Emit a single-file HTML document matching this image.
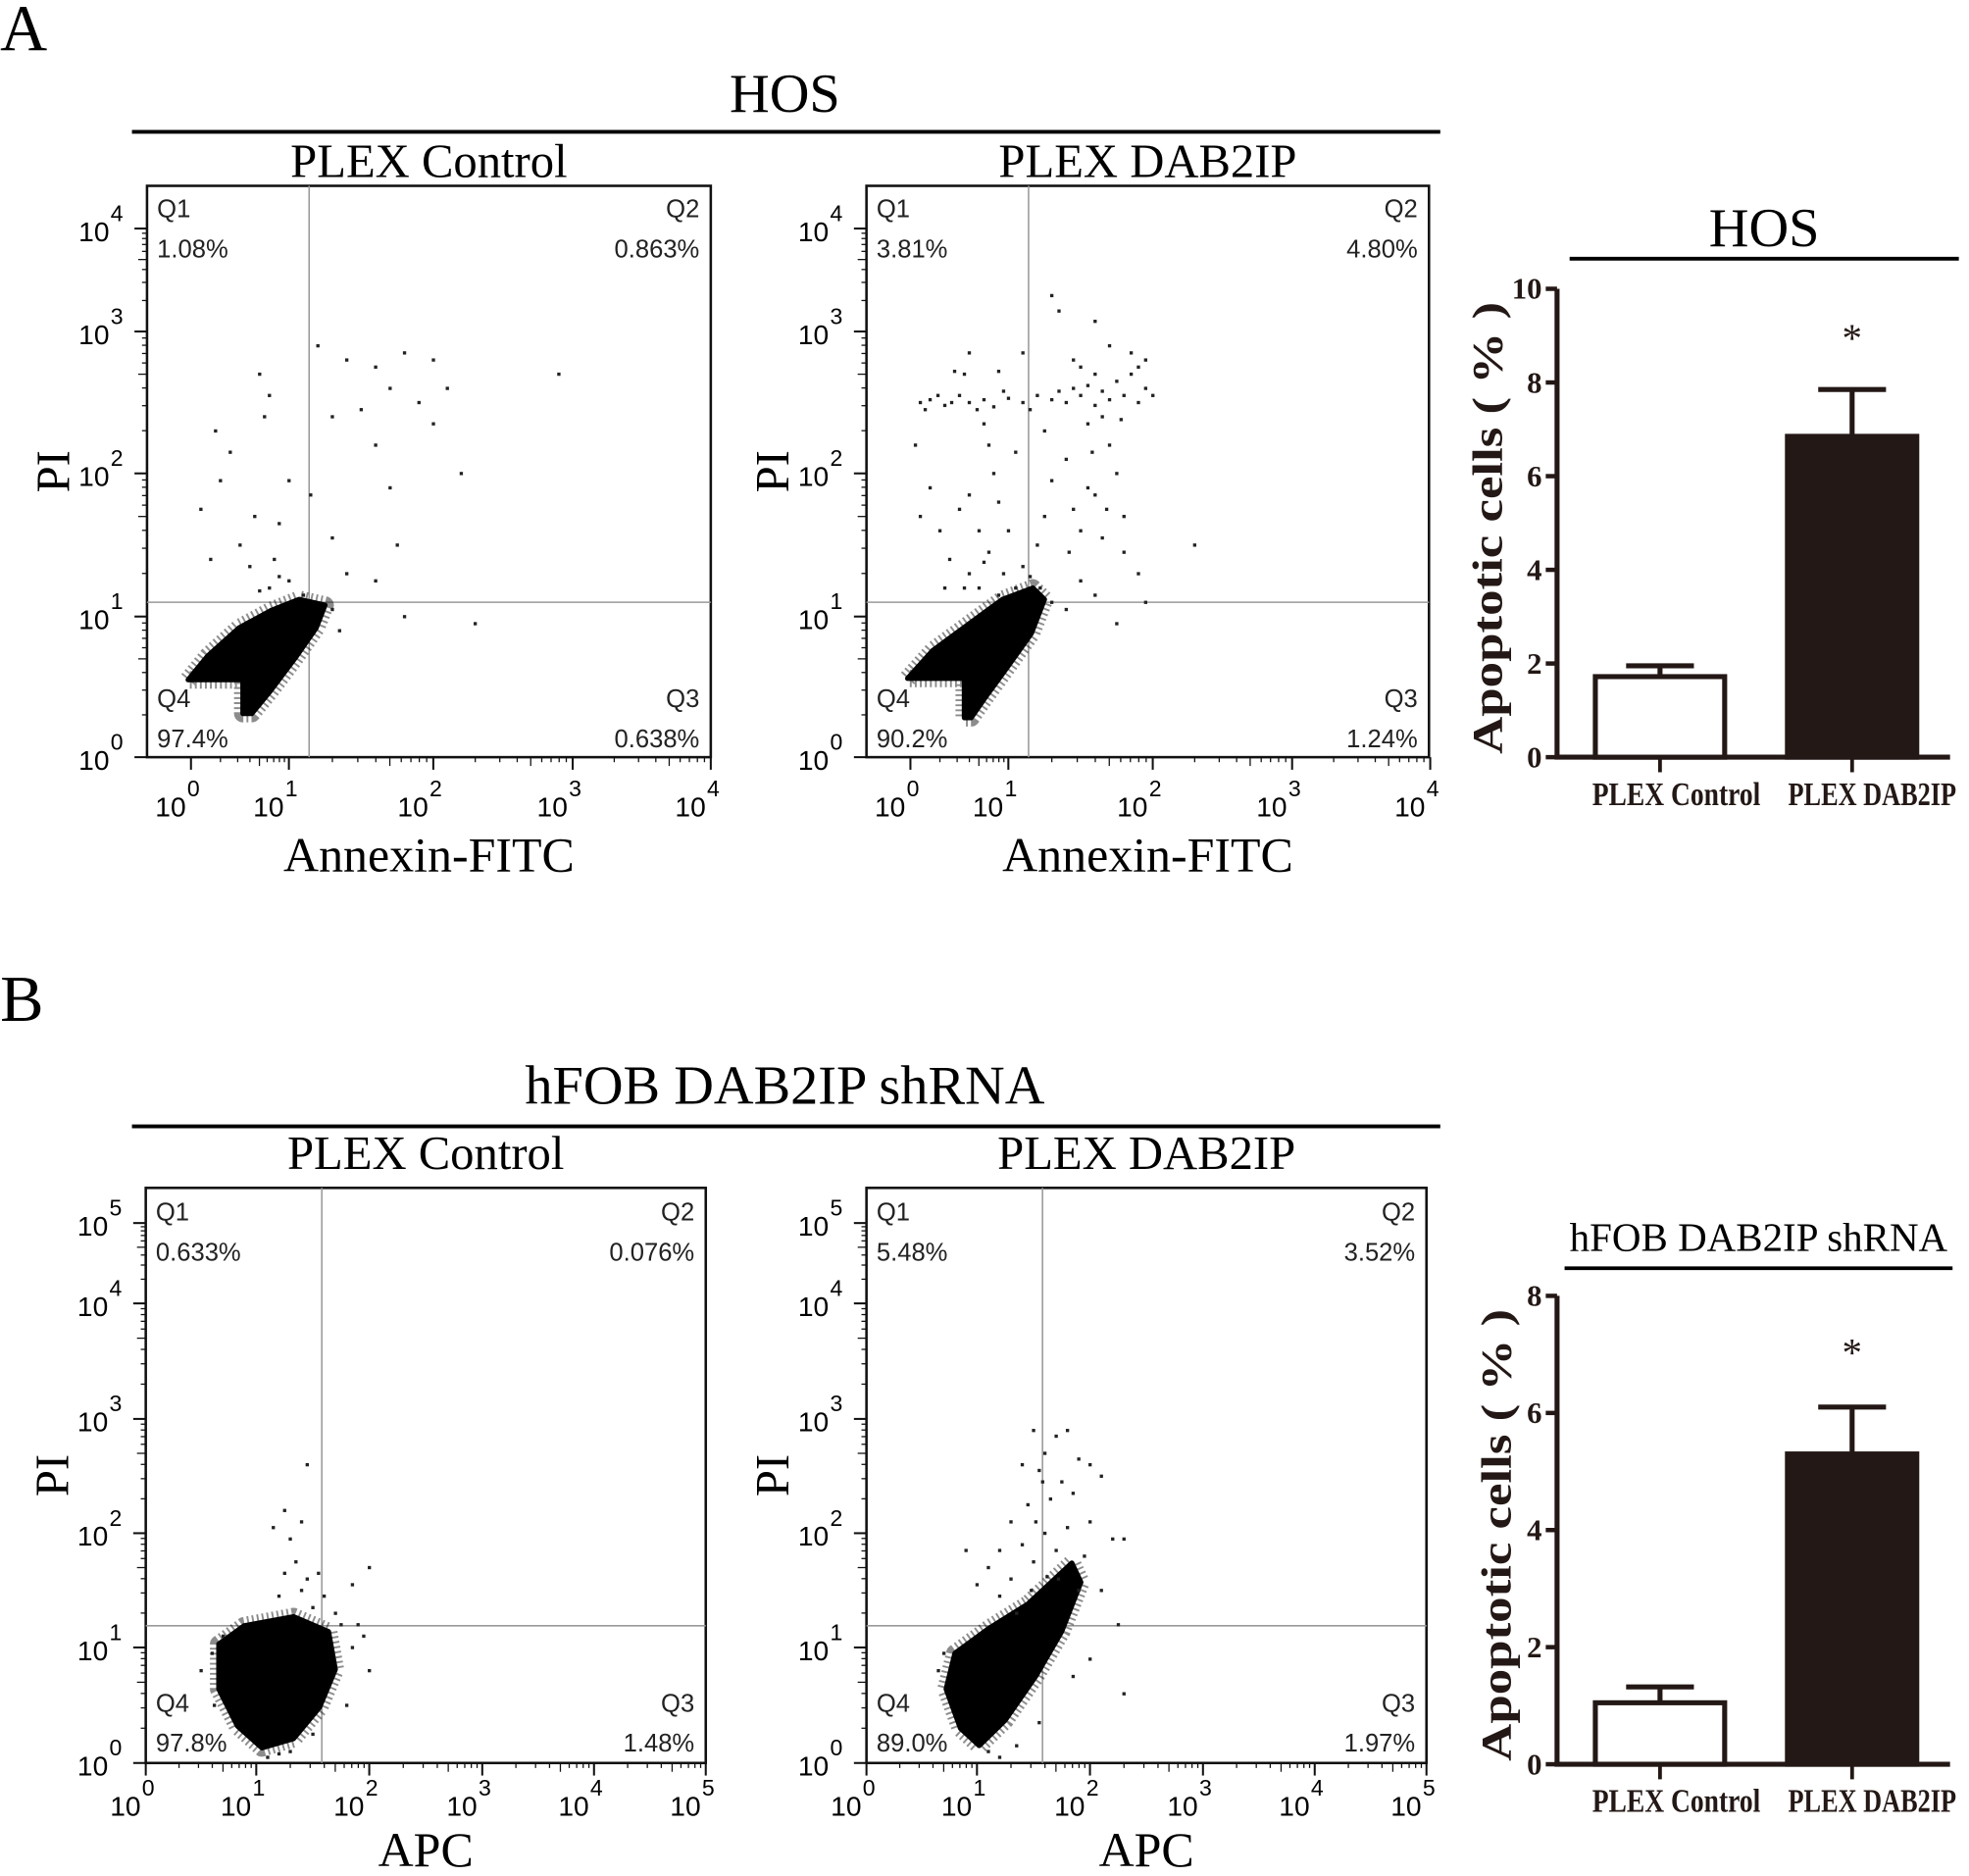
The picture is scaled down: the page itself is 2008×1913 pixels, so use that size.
<!DOCTYPE html>
<html><head><meta charset="utf-8"><style>
html,body{margin:0;padding:0;background:#fff}
svg{display:block}
text{font-family:"Liberation Serif",serif}
.sans{font-family:"Liberation Sans",sans-serif}
</style></head><body>
<svg id="fig" width="2008" height="1913" viewBox="0 0 1568 1494" xmlns="http://www.w3.org/2000/svg">
<text x="0" y="40" font-size="52">A</text>
<text x="0" y="813" font-size="52">B</text>
<text x="625" y="89" font-size="44" text-anchor="middle">HOS</text>
<line x1="105" y1="105" x2="1147" y2="105" stroke="#000" stroke-width="3"/>
<text x="625" y="879" font-size="44" text-anchor="middle">hFOB DAB2IP shRNA</text>
<line x1="105" y1="897" x2="1147" y2="897" stroke="#000" stroke-width="3"/>
<g id="root"></g>
</svg>
<script>
// ---------- data ----------
const quadLabelsA1 = ["1.08%","0.863%","0.638%","97.4%"];
const quadLabelsA2 = ["3.81%","4.80%","1.24%","90.2%"];
const quadLabelsB1 = ["0.633%","0.076%","1.48%","97.8%"];
const quadLabelsB2 = ["5.48%","3.52%","1.97%","89.0%"];
const gateA1 = [1.14, 1.1]; const gateA2 = [1.14, 1.1];
const gateB1 = [1.58, 1.19]; const gateB2 = [1.58, 1.19];
const clusterA1 = [[-0.03,0.55],[0.17,0.72],[0.49,0.92],[0.81,1.04],[1.07,1.12],[1.25,1.08],[1.19,0.92],[1.04,0.70],[0.81,0.47],[0.62,0.31],[0.53,0.31],[0.53,0.55]];
const clusterA2 = [[-0.03,0.56],[0.23,0.76],[0.62,0.96],[0.94,1.12],[1.17,1.2],[1.25,1.12],[1.16,0.88],[1.0,0.65],[0.77,0.43],[0.62,0.28],[0.55,0.28],[0.55,0.56]];
const clusterB1 = [[0.66,1.03],[0.89,1.19],[1.33,1.27],[1.64,1.14],[1.70,0.81],[1.56,0.48],[1.33,0.21],[1.05,0.13],[0.83,0.32],[0.66,0.64]];
const clusterB2 = [[0.8,0.95],[1.11,1.17],[1.45,1.38],[1.84,1.74],[1.92,1.57],[1.75,1.14],[1.52,0.75],[1.25,0.37],[1.02,0.15],[0.85,0.3],[0.72,0.64]];
const pointsA1 = [[1.2,2.9],[1.4,2.8],[1.6,2.75],[1.8,2.85],[2.0,2.8],[1.7,2.6],[1.9,2.5],[1.5,2.45],[1.3,2.4],[2.1,2.6],[2.0,2.35],[1.6,2.2],[1.7,1.9],[2.2,2.0],[1.75,1.5],[0.7,2.7],[0.8,2.55],[0.75,2.4],[0.25,2.3],[0.4,2.15],[0.3,1.95],[0.1,1.75],[0.65,1.7],[1.0,1.95],[0.9,1.65],[0.5,1.5],[1.15,1.85],[0.2,1.4],[0.6,1.35],[0.85,1.4],[1.4,1.3],[1.6,1.25],[2.9,2.7],[1.3,1.55],[1.8,1.0],[2.3,0.95],[0.8,1.2],[1.0,1.25],[1.1,1.15],[0.9,1.28],[0.7,1.18],[1.3,1.05],[1.35,0.9]];
const pointsA2 = [[0.1,2.5],[0.2,2.52],[0.35,2.48],[0.5,2.55],[0.6,2.5],[0.75,2.52],[0.85,2.47],[1.0,2.53],[1.1,2.5],[1.2,2.55],[1.3,2.52],[1.4,2.5],[1.5,2.55],[1.6,2.48],[1.7,2.52],[1.8,2.55],[1.9,2.5],[1.95,2.6],[1.85,2.7],[1.75,2.65],[1.6,2.7],[1.5,2.75],[1.95,2.8],[1.85,2.85],[1.7,2.9],[1.45,2.8],[0.55,2.7],[0.45,2.72],[0.9,2.72],[1.3,3.35],[1.6,3.1],[1.35,3.2],[0.6,2.85],[1.1,2.85],[1.55,2.35],[1.7,2.2],[1.75,2.0],[1.6,1.85],[1.5,1.6],[1.45,1.75],[1.65,1.55],[1.8,1.7],[1.4,2.1],[1.3,1.95],[1.25,1.7],[1.2,1.5],[1.1,1.35],[0.8,2.2],[0.85,2.0],[0.9,1.8],[0.7,1.6],[0.6,1.85],[0.5,1.75],[0.4,1.4],[0.3,1.6],[0.2,1.9],[0.05,2.2],[0.1,1.7],[0.35,1.2],[0.6,1.3],[0.8,1.45],[0.95,1.3],[1.05,1.2],[0.9,1.15],[0.7,1.2],[1.5,1.25],[1.6,1.15],[1.9,1.3],[2.3,1.5],[1.75,0.95],[1.4,1.05],[1.95,1.1],[1.55,1.9],[1.65,2.4],[1.45,2.6],[1.25,2.3],[1.05,2.15],[0.75,2.35],[1.8,1.45],[1.3,1.1],[0.15,2.45],[0.28,2.55],[0.42,2.5],[0.68,2.45],[0.95,2.58],[1.15,2.45],[1.35,2.58],[1.55,2.62],[1.65,2.58],[1.9,2.75],[2.0,2.55],[1.78,2.38],[1.58,2.15],[1.68,1.75],[1.42,1.45],[1.0,1.6],[0.55,1.2],[0.75,1.38],[1.15,1.28],[1.22,1.2]];
const pointsB1 = [[1.45,2.6],[1.25,2.2],[1.4,2.1],[1.15,2.05],[1.3,1.95],[1.35,1.75],[1.25,1.65],[1.45,1.6],[1.55,1.65],[1.4,1.5],[1.6,1.45],[2.0,1.7],[1.85,1.55],[1.2,1.45],[1.5,1.35],[1.9,1.2],[2.0,0.8],[1.8,0.5],[0.5,0.8],[0.6,0.95],[1.1,0.05],[1.3,0.1],[1.5,0.25],[1.85,1.0],[1.95,1.1],[1.75,1.2],[1.7,1.3],[0.7,1.1],[0.62,0.5],[1.2,0.08]];
const pointsB2 = [[1.5,2.9],[1.7,2.85],[1.8,2.9],[1.6,2.7],[1.4,2.6],[1.55,2.55],[1.9,2.65],[2.0,2.6],[2.1,2.5],[1.75,2.45],[1.65,2.3],[1.85,2.35],[1.45,2.25],[1.3,2.1],[1.6,2.0],[1.8,2.05],[2.0,2.1],[2.2,1.95],[2.3,1.95],[1.2,1.85],[1.4,1.9],[1.7,1.85],[1.95,1.8],[1.5,1.75],[1.3,1.6],[1.1,1.7],[0.9,1.85],[1.0,1.55],[1.2,1.45],[2.1,1.5],[2.25,1.2],[2.3,0.6],[2.0,0.9],[1.85,0.75],[1.55,0.35],[1.1,0.1],[1.2,0.05],[1.35,0.15],[0.65,0.8],[0.7,0.95],[1.62,1.62],[1.72,1.6],[1.48,1.5],[1.58,2.45],[1.52,2.1],[1.9,1.5],[1.35,1.3]];
const barCats = ["PLEX Control","PLEX DAB2IP"];
const barValsA = [1.72, 6.85]; const barErrA = [0.23, 1.0];
const barValsB = [1.05, 5.3]; const barErrB = [0.27, 0.8];
const barTicksA = [0,2,4,6,8,10]; const barTicksB = [0,2,4,6,8];

// ---------- drawing ----------
const NS="http://www.w3.org/2000/svg";
const root=document.getElementById('root');
function mk(tag, attrs, parent){const e=document.createElementNS(NS,tag);for(const k in attrs)e.setAttribute(k,attrs[k]);(parent||root).appendChild(e);return e;}
function interp(dec,v){const i=Math.max(0,Math.min(dec.length-2,Math.floor(v)));return dec[i]+(dec[i+1]-dec[i])*(v-i);}

function scatter(cfg){
  const g=mk('g',{});
  
  
  const X=v=>interp(cfg.xd,v), Y=v=>interp(cfg.yd,v);
  const b=cfg.box;
  const r=mk('rect',{x:b[0],y:b[1],width:b[2]-b[0],height:b[3]-b[1],fill:'none',stroke:'#111','stroke-width':2},g);
  
  
  for(let d=0;d<cfg.yd.length;d++){
    const yy=cfg.yd[d];
    mk('line',{x1:b[0]-10,y1:yy,x2:b[0],y2:yy,stroke:'#111','stroke-width':1.6},g);
    if(d<cfg.yd.length-1)for(let m=2;m<10;m++){const t=Y(d+Math.log10(m));if(t<b[1])break;mk('line',{x1:b[0]-(m==5?7:4),y1:t,x2:b[0],y2:t,stroke:'#111','stroke-width':1},g);}
    const t=mk('text',{x:b[0]-30,y:yy+10,'font-size':22,'text-anchor':'end',class:'sans'},g);t.textContent='10';
    
    
    const s=mk('text',{x:b[0]-29,y:yy-6,'font-size':18,class:'sans'},g);s.textContent=String(d);
  }
  for(let d=0;d<cfg.xd.length;d++){
    const xx=cfg.xd[d];
    mk('line',{x1:xx,y1:b[3],x2:xx,y2:b[3]+10,stroke:'#111','stroke-width':1.6},g);
    if(d<cfg.xd.length-1)for(let m=2;m<10;m++){const t=X(d+Math.log10(m));mk('line',{x1:t,y1:b[3],x2:t,y2:b[3]+(m==5?7:4),stroke:'#111','stroke-width':1},g);}
    const t=mk('text',{x:xx-4,y:cfg.xlab,'font-size':22,'text-anchor':'end',class:'sans'},g);t.textContent='10';
    
    
    const s=mk('text',{x:xx-3,y:cfg.xlab-16,'font-size':18,class:'sans'},g);s.textContent=String(d);
  }
  const gx=X(cfg.gate[0]), gy=Y(cfg.gate[1]);
  const gv=mk('line',{x1:gx,y1:b[1],x2:gx,y2:b[3],stroke:'#999','stroke-width':1.2},g);
  
  
  const gh=mk('line',{x1:b[0],y1:gy,x2:b[2],y2:gy,stroke:'#999','stroke-width':1.2},g);
  
  
  const pts=cfg.cluster.map(p=>X(p[0]).toFixed(1)+','+Y(p[1]).toFixed(1)).join(' ');
  const halo=mk('polygon',{points:pts,fill:'none',stroke:'#000','stroke-width':14,'stroke-opacity':0.45,'stroke-dasharray':'1.5 2.5','stroke-linejoin':'round'},g);
  
  
  const cp=mk('polygon',{points:pts,fill:'#000',stroke:'#000','stroke-width':4,'stroke-linejoin':'round'},g);
  
  
  for(const p of cfg.points){
    const d=mk('rect',{x:X(p[0])-1.2,y:Y(p[1])-1.2,width:2.6,height:2.6,fill:'#222'},g);
    
    
  }
  const L=b[0]+8,R=b[2]-9;
  const q=[['Q1',L,'start',cfg.qt],['Q2',R,'end',cfg.qt],['Q3',R,'end',cfg.qb],['Q4',L,'start',cfg.qb]];
  const pcts=[cfg.q[0],cfg.q[1],cfg.q[2],cfg.q[3]];
  q.forEach((e,i)=>{
    const a=mk('text',{x:e[1],y:e[3],'font-size':20,'text-anchor':e[2],class:'sans',fill:'#222'},g);a.textContent=e[0];
    
    
    const p=mk('text',{x:e[1],y:e[3]+32,'font-size':20,'text-anchor':e[2],class:'sans',fill:'#222'},g);p.textContent=pcts[i];
    
    
  });
  const cx=(b[0]+b[2])/2;
  const tt=mk('text',{x:cx,y:cfg.titleY,'font-size':38,'text-anchor':'middle'},g);tt.textContent=cfg.title;
  
  
  const xt=mk('text',{x:cx,y:cfg.xtitleY,'font-size':39,'text-anchor':'middle'},g);xt.textContent=cfg.xtitle;
  
  
  const yt=mk('text',{x:0,y:0,'font-size':38,'text-anchor':'middle',transform:`translate(${b[0]-62},${(b[1]+b[3])/2}) rotate(-90)`},g);yt.textContent='PI';
  
  
}
const ydA=[603,491,377,264,182], xdA=[152,230,345,456,566];
const ydB=[1404,1312,1221,1130,1038,974], xdB=[116,204,294,384,473,562];
const sh=(a,o)=>a.map(v=>v+o);
scatter({name:'scatter-hos-control',box:[117,148,566,603],xd:xdA,yd:ydA,gate:gateA1,cluster:clusterA1,points:pointsA1,q:quadLabelsA1,qt:173,qb:563,xlab:650,title:'PLEX Control',titleY:141,xtitle:'Annexin-FITC',xtitleY:694});
scatter({name:'scatter-hos-dab2ip',box:[690,148,1138,603],xd:sh(xdA,573),yd:ydA,gate:gateA2,cluster:clusterA2,points:pointsA2,q:quadLabelsA2,qt:173,qb:563,xlab:650,title:'PLEX DAB2IP',titleY:141,xtitle:'Annexin-FITC',xtitleY:694});
scatter({name:'scatter-hfob-control',box:[116,946,562,1404],xd:xdB,yd:ydB,gate:gateB1,cluster:clusterB1,points:pointsB1,q:quadLabelsB1,qt:972,qb:1363,xlab:1446,title:'PLEX Control',titleY:931,xtitle:'APC',xtitleY:1486});
scatter({name:'scatter-hfob-dab2ip',box:[690,946,1136,1404],xd:sh(xdB,574),yd:ydB,gate:gateB2,cluster:clusterB2,points:pointsB2,q:quadLabelsB2,qt:972,qb:1363,xlab:1446,title:'PLEX DAB2IP',titleY:931,xtitle:'APC',xtitleY:1486});

function bars(cfg){
  const g=mk('g',{});
  
  
  const max=cfg.ticks[cfg.ticks.length-1];
  const Y=v=>cfg.y0-(cfg.y0-cfg.ytop)*v/max;
  const ax=1240;
  const t=mk('text',{x:(cfg.lx1+cfg.lx2)/2,y:cfg.titleY,'font-size':cfg.titleSize,'text-anchor':'middle'},g);t.textContent=cfg.title;
  
  
  mk('line',{x1:cfg.lx1,y1:cfg.ruleY,x2:cfg.lx2,y2:cfg.ruleY,stroke:'#000','stroke-width':3},g);
  const ya=mk('line',{x1:ax,y1:cfg.ytop,x2:ax,y2:cfg.y0,stroke:'#231815','stroke-width':4},g);
  
  
  const xa=mk('line',{x1:ax-2,y1:cfg.y0,x2:1553,y2:cfg.y0,stroke:'#231815','stroke-width':4},g);
  
  
  cfg.ticks.forEach(v=>{
    mk('line',{x1:ax-9,y1:Y(v),x2:ax,y2:Y(v),stroke:'#231815','stroke-width':3.5},g);
    const l=mk('text',{x:ax-12,y:Y(v)+8,'font-size':24,'font-weight':'bold','text-anchor':'end',fill:'#231815'},g);l.textContent=String(v);
    
    
  });
  const xs=[1322,1475], w=103;
  cfg.vals.forEach((v,i)=>{
    const top=Y(v), et=Y(v+cfg.err[i]);
    mk('line',{x1:xs[i],y1:top,x2:xs[i],y2:et,stroke:'#231815','stroke-width':4},g);
    mk('line',{x1:xs[i]-27,y1:et,x2:xs[i]+27,y2:et,stroke:'#231815','stroke-width':4},g);
    const r=mk('rect',{x:xs[i]-w/2,y:top,width:w,height:cfg.y0-top,fill:i?'#231815':'#fff',stroke:'#231815','stroke-width':4},g);
    
    
    mk('line',{x1:xs[i],y1:cfg.y0,x2:xs[i],y2:cfg.y0+12,stroke:'#231815','stroke-width':3},g);
    const l=mk('text',{x:xs[i]+(i?16:13),y:cfg.y0+38,'font-size':26,'font-weight':'bold','text-anchor':'middle',fill:'#231815',textLength:134,lengthAdjust:'spacingAndGlyphs'},g);l.textContent=barCats[i];
    
    
  });
  const s=mk('text',{x:xs[1],y:cfg.starY,'font-size':32,'text-anchor':'middle',fill:'#231815'},g);s.textContent='*';
  
  
  const yt=mk('text',{x:0,y:0,'font-size':34,'font-weight':'bold','text-anchor':'middle',fill:'#231815',textLength:cfg.ylen,lengthAdjust:'spacingAndGlyphs',transform:`translate(${cfg.ylx},${(cfg.ytop+cfg.y0)/2+4}) rotate(-90)`},g);yt.textContent='Apoptotic cells ( % )';
  
  
}
bars({name:'bar-chart-hos',vals:barValsA,err:barErrA,ticks:barTicksA,y0:603,ytop:230,title:'HOS',titleSize:44,titleY:196,ruleY:206,lx1:1250,lx2:1560,starY:280,ylx:1196,ylen:360});
bars({name:'bar-chart-hfob',vals:barValsB,err:barErrB,ticks:barTicksB,y0:1405,ytop:1032,title:'hFOB DAB2IP shRNA',titleSize:32,titleY:996,ruleY:1010,lx1:1246,lx2:1555,starY:1088,ylx:1203,ylen:360});
</script>
</body></html>
